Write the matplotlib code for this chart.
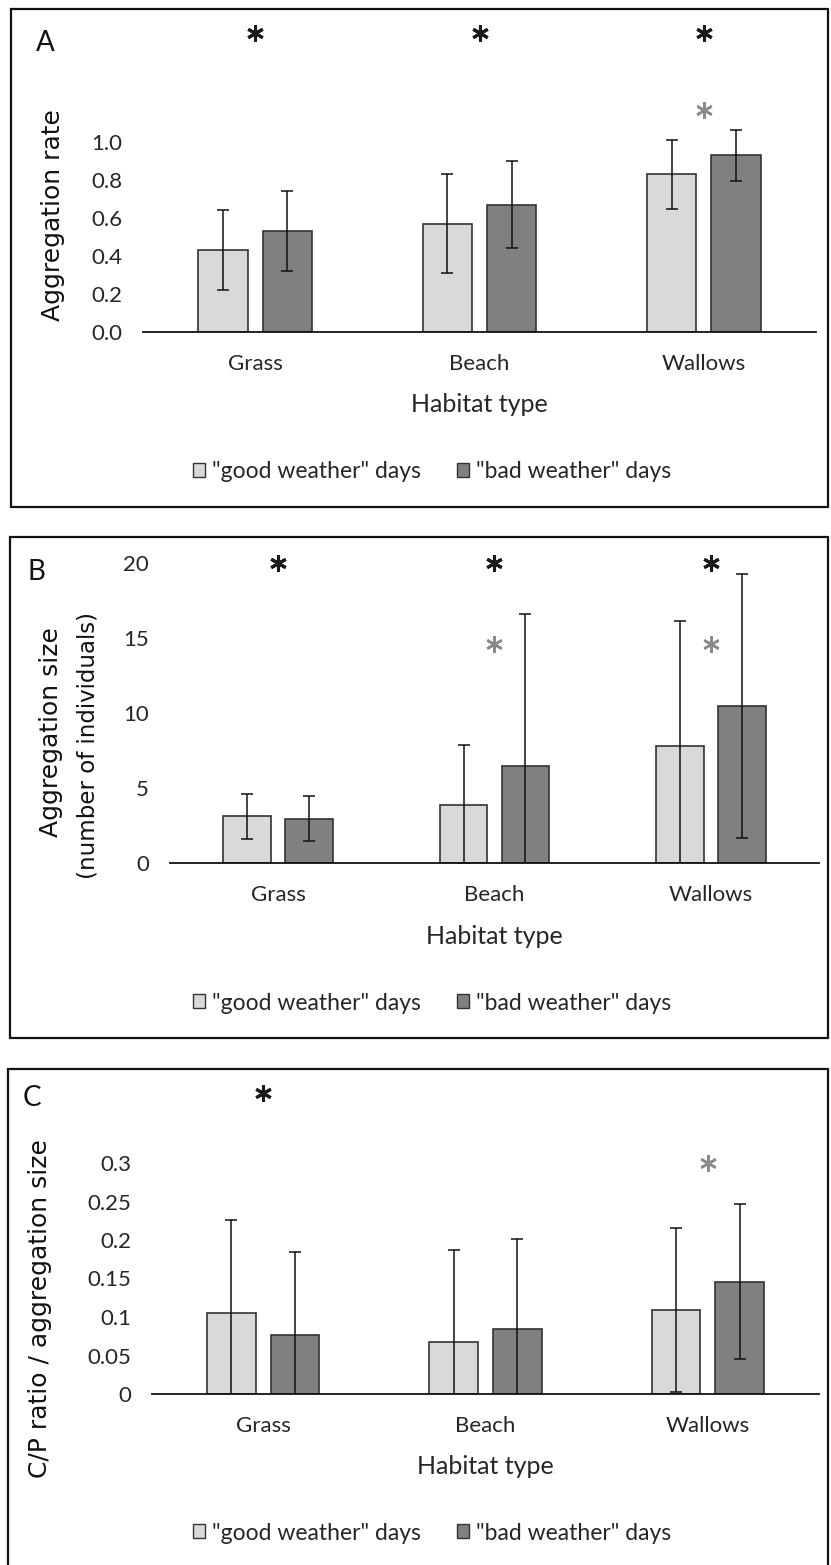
import numpy as np
import matplotlib
matplotlib.use('Agg')
import matplotlib.pyplot as plt
from matplotlib.patches import Rectangle, Patch
from matplotlib.ticker import FormatStrFormatter

habitats = ['Grass', 'Beach', 'Wallows']
series_names = ['"good weather" days', '"bad weather" days']

# A: aggregation rate
rate_good = [0.43, 0.57, 0.83]
rate_good_sd = [0.21, 0.26, 0.18]
rate_bad = [0.53, 0.67, 0.93]
rate_bad_sd = [0.21, 0.23, 0.135]
rate_ticks = [0.0, 0.2, 0.4, 0.6, 0.8, 1.0]
rate_star_black = [1.574, 1.574, 1.574]
rate_star_gray = [None, None, 1.168]

# B: aggregation size
size_good = [3.13, 3.89, 7.78]
size_good_sd = [1.5, 3.95, 8.38]
size_bad = [2.96, 6.49, 10.47]
size_bad_sd = [1.52, 10.09, 8.8]
size_ticks = [0, 5, 10, 15, 20]
size_star_black = [20.0, 20.0, 20.0]
size_star_gray = [None, 14.6, 14.6]

# C: C/P ratio / aggregation size
cp_good = [0.105, 0.068, 0.109]
cp_good_sd = [0.121, 0.119, 0.106]
cp_bad = [0.077, 0.085, 0.146]
cp_bad_sd = [0.107, 0.116, 0.101]
cp_ticks = [0, 0.05, 0.1, 0.15, 0.2, 0.25, 0.3]
cp_star_black = [0.391, None, None]
cp_star_gray = [None, None, 0.300]

W, H = 831, 1565
LIGHT = '#d9d9d9'
DARK = '#808080'
TXT = '#262626'
tick_font = 'Lato'
label_font = 'DejaVu Sans'

fig = plt.figure(figsize=(W / 100, H / 100), dpi=100)


def px_rect(left, right, top, bottom):
    return [left / W, 1 - bottom / H, (right - left) / W, (bottom - top) / H]


def draw_panel(rect, border, letter, letter_pos, good, good_sd, bad, bad_sd,
               ticks, fmt, ylim_top, ylabels, stars_black, stars_gray, legend_y):
    ax = fig.add_axes(px_rect(*rect))
    x = np.arange(len(habitats))
    w = 0.22
    off = 0.143
    ax.bar(x - off, good, w, color=LIGHT, edgecolor='#333333', linewidth=1.2, zorder=2)
    ax.bar(x + off, bad, w, color=DARK, edgecolor='#333333', linewidth=1.2, zorder=2)
    ax.errorbar(x - off, good, yerr=good_sd, fmt='none', ecolor='#111111',
                elinewidth=1.1, capsize=4.3, capthick=1.1, zorder=3)
    ax.errorbar(x + off, bad, yerr=bad_sd, fmt='none', ecolor='#111111',
                elinewidth=1.1, capsize=4.3, capthick=1.1, zorder=3)

    for i, s in enumerate(stars_black):
        if s is not None:
            ax.plot(x[i], s, marker=(6, 2, 0), ms=12, mew=2.2, color='#1a1a1a',
                    clip_on=False, zorder=4)
    for i, s in enumerate(stars_gray):
        if s is not None:
            ax.plot(x[i], s, marker=(6, 2, 0), ms=12, mew=1.8, color='#8a8a8a',
                    clip_on=False, zorder=4)

    ax.set_xlim(-0.5, 2.5)
    ax.set_ylim(0, ylim_top)
    ax.set_yticks(ticks)
    ax.yaxis.set_major_formatter(FormatStrFormatter(fmt))
    ax.set_xticks(x)
    ax.set_xticklabels(habitats)
    for sp in ['left', 'top', 'right']:
        ax.spines[sp].set_visible(False)
    ax.spines['bottom'].set_linewidth(1.3)
    ax.spines['bottom'].set_color('#111111')
    ax.tick_params(axis='both', length=0, labelsize=16, colors=TXT)
    ax.tick_params(axis='y', pad=15)
    ax.tick_params(axis='x', pad=16)
    for lab in ax.get_xticklabels() + ax.get_yticklabels():
        lab.set_family(tick_font)
    ax.patch.set_alpha(0)

    left, right, top, bottom = rect
    ax.set_xlabel('Habitat type', fontsize=18, family=tick_font, color=TXT)
    ax.xaxis.set_label_coords(0.5, -73 / (bottom - top))
    ax.xaxis.label.set_va('center')

    # y label(s), placed in figure pixels: (text, x centre, y centre, size)
    for lbl, xpos, ypos, fs in ylabels:
        fig.text(xpos / W, 1 - ypos / H, lbl, rotation=90, ha='center', va='center',
                 fontsize=fs, family=label_font, color='#111111')

    fig.text(letter_pos[0] / W, 1 - letter_pos[1] / H, letter, fontsize=20,
             family=tick_font, ha='left', va='center', color='#111111')

    bl, br, bt, bb = border
    fig.add_artist(Rectangle((bl / W, 1 - bb / H), (br - bl) / W, (bb - bt) / H,
                             transform=fig.transFigure, fill=False,
                             edgecolor='#111111', linewidth=1.6))

    handles = [Patch(facecolor=LIGHT, edgecolor='#333333', linewidth=1.0),
               Patch(facecolor=DARK, edgecolor='#333333', linewidth=1.0)]
    leg = fig.legend(handles, series_names, loc='center', ncol=2,
                     bbox_to_anchor=(432 / W, 1 - legend_y / H), frameon=False,
                     prop={'family': tick_font, 'size': 16.5},
                     handlelength=0.5, handleheight=0.55, handletextpad=0.3,
                     columnspacing=1.6)
    for t in leg.get_texts():
        t.set_color(TXT)
    return ax


draw_panel((143, 816, 20, 332), (11, 828, 9, 507), 'A', (36, 43),
           rate_good, rate_good_sd, rate_bad, rate_bad_sd, rate_ticks, '%.1f',
           (332 - 20) / 190, [('Aggregation rate', 53, 215, 18)],
           rate_star_black, rate_star_gray, 472)

draw_panel((170, 819, 545, 863), (10, 828, 537, 1038), 'B', (28, 572),
           size_good, size_good_sd, size_bad, size_bad_sd, size_ticks, '%d',
           (863 - 545) / 15,
           [('Aggregation size', 51, 732, 18), ('(number of individuals)', 88, 745, 16.5)],
           size_star_black, size_star_gray, 1003)

draw_panel((152, 819, 1080, 1394), (8, 828, 1069, 1600), 'C', (23, 1098),
           cp_good, cp_good_sd, cp_bad, cp_bad_sd, cp_ticks, '%g',
           (1394 - 1080) / 770, [('C/P ratio / aggregation size', 40, 1309, 18)],
           cp_star_black, cp_star_gray, 1533)

fig.savefig('out.png', dpi=100)
